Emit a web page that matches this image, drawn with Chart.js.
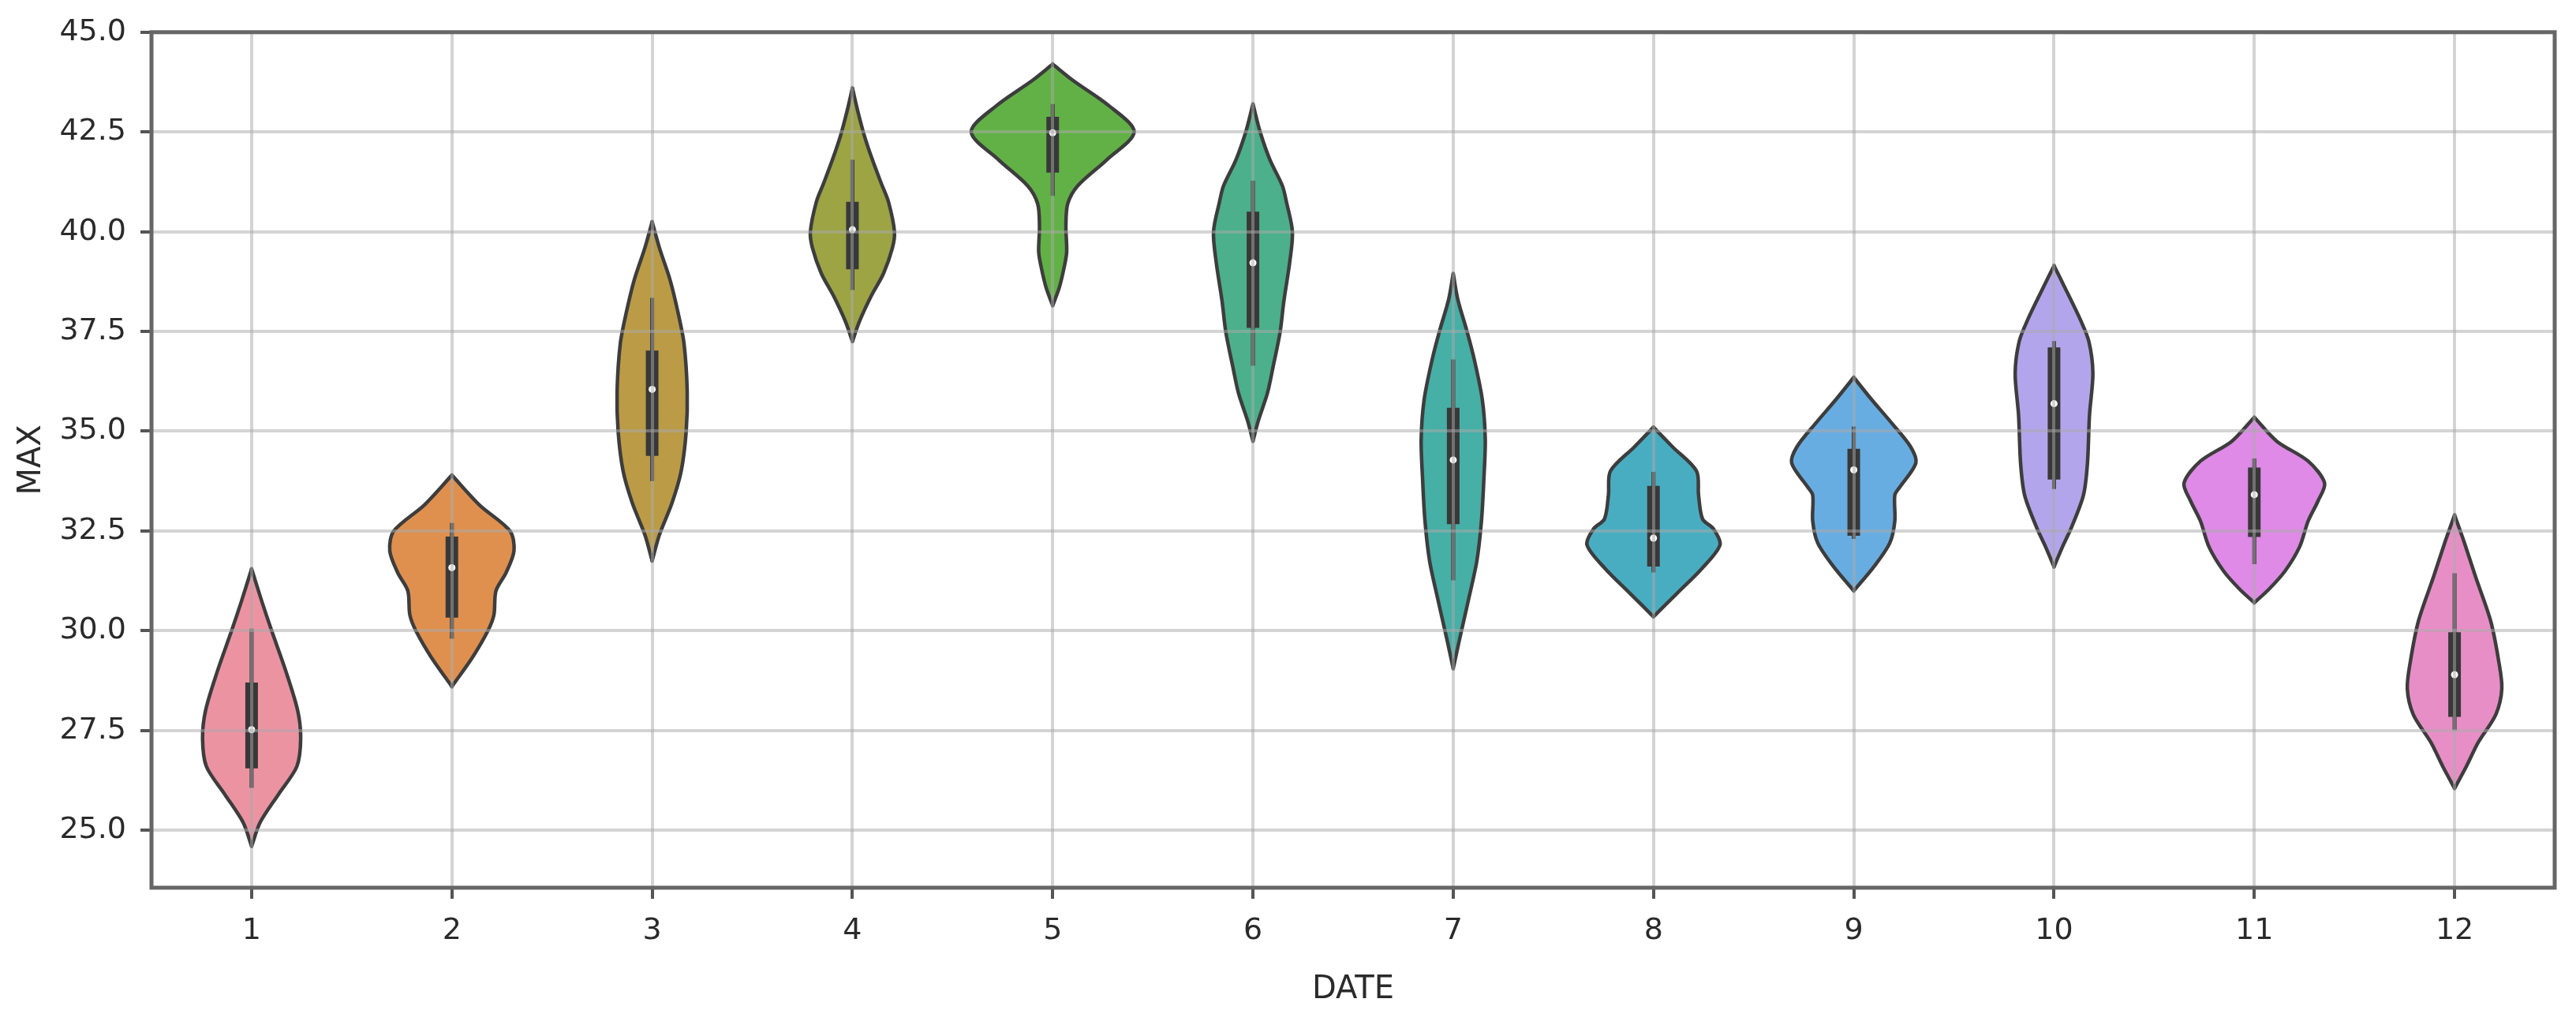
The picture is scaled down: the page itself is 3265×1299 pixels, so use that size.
<!DOCTYPE html>
<html>
<head>
<meta charset="utf-8">
<script src="https://cdn.jsdelivr.net/npm/chart.js@4.4.1/dist/chart.umd.min.js"></script>
<style>
  html, body { margin: 0; padding: 0; background: #ffffff; }
  #c { display: block; }
</style>
</head>
<body>
<canvas id="c" width="3265" height="1299"></canvas>
<script>
// ---------- data ----------
const months = ['1', '2', '3', '4', '5', '6', '7', '8', '9', '10', '11', '12'];
const yTicks = [25.0, 27.5, 30.0, 32.5, 35.0, 37.5, 40.0, 42.5, 45.0];

// violin outline: levels (MAX value) and density half-width (in category units) at each level
const violinLevels = [
  [24.6, 25.2, 25.9, 26.6, 27.3, 28.0, 29.0, 30.0, 30.75, 31.55],
  [28.6, 29.35, 30.0, 30.4, 31.0, 31.45, 32.0, 32.5, 33.15, 33.9],
  [31.75, 32.4, 33.2, 34.0, 35.0, 36.0, 37.2, 38.0, 38.8, 39.6, 40.25],
  [37.25, 37.75, 38.4, 38.95, 39.6, 40.0, 40.75, 41.2, 41.8, 42.4, 43.0, 43.6],
  [38.15, 38.6, 39.15, 39.5, 40.15, 40.7, 41.15, 41.8, 42.5, 43.15, 43.8, 44.2],
  [34.75, 35.25, 35.95, 36.6, 37.5, 38.25, 39.25, 40.0, 40.75, 41.15, 41.8, 42.5, 43.2],
  [29.05, 29.75, 30.75, 31.75, 32.75, 33.8, 34.8, 35.8, 36.8, 37.5, 38.3, 38.95],
  [30.35, 30.95, 31.55, 32.15, 32.55, 32.8, 33.4, 34.0, 34.6, 35.1],
  [31.0, 31.6, 32.2, 32.75, 33.4, 33.6, 34.2, 34.6, 35.2, 35.8, 36.35],
  [31.6, 32.1, 32.6, 33.4, 34.2, 35.4, 36.45, 37.25, 37.8, 38.55, 39.15],
  [30.7, 31.05, 31.5, 32.1, 32.75, 33.25, 33.7, 34.25, 34.75, 35.35],
  [26.05, 26.6, 27.2, 27.9, 28.55, 29.25, 30.25, 31.35, 32.25, 32.9]
];
const violinHalfWidths = [
  [0, 0.043, 0.134, 0.226, 0.245, 0.23, 0.17, 0.1, 0.05, 0],
  [0, 0.105, 0.18, 0.21, 0.22, 0.27, 0.31, 0.29, 0.138, 0],
  [0, 0.036, 0.099, 0.145, 0.17, 0.175, 0.159, 0.128, 0.089, 0.036, 0],
  [0, 0.035, 0.095, 0.155, 0.2, 0.21, 0.18, 0.145, 0.1, 0.06, 0.028, 0],
  [0, 0.033, 0.059, 0.07, 0.066, 0.075, 0.125, 0.27, 0.407, 0.283, 0.099, 0],
  [0, 0.026, 0.072, 0.1, 0.136, 0.154, 0.184, 0.197, 0.167, 0.147, 0.085, 0.036, 0],
  [0, 0.03, 0.075, 0.118, 0.141, 0.153, 0.16, 0.145, 0.105, 0.069, 0.023, 0],
  [0, 0.12, 0.24, 0.332, 0.3, 0.245, 0.225, 0.215, 0.097, 0],
  [0, 0.1, 0.18, 0.205, 0.205, 0.23, 0.31, 0.285, 0.19, 0.088, 0],
  [0, 0.042, 0.088, 0.147, 0.167, 0.177, 0.194, 0.174, 0.131, 0.059, 0],
  [0, 0.075, 0.154, 0.226, 0.269, 0.318, 0.351, 0.269, 0.112, 0],
  [0, 0.059, 0.118, 0.206, 0.236, 0.22, 0.18, 0.105, 0.046, 0]
];

// inner box statistics
const q1        = [26.55, 30.33, 34.38, 39.06, 41.48, 37.59, 32.67, 31.61, 32.38, 33.79, 32.35, 27.84];
const medians   = [27.52, 31.58, 36.05, 40.05, 42.48, 39.22, 34.28, 32.32, 34.03, 35.69, 33.41, 28.90];
const q3        = [28.70, 32.36, 37.02, 40.75, 42.88, 40.50, 35.59, 33.63, 34.56, 37.10, 34.09, 29.96];
const whiskerLo = [26.06, 29.80, 33.75, 38.54, 40.90, 36.64, 31.26, 31.46, 32.30, 33.55, 31.67, 27.50];
const whiskerHi = [30.05, 32.70, 38.34, 41.80, 43.20, 41.28, 36.80, 33.98, 35.12, 37.26, 34.32, 31.44];

// ---------- styles ----------
const violinColors = ['#ec93a2', '#e0904e', '#bb9b45', '#9ca444', '#62b146', '#4bb08b',
                      '#46afa6', '#49adc2', '#68ade2', '#b3a5ec', '#de8ae6', '#e88ec6'];
const OUTLINE = '#3d3d3d';
const BOXCOL = '#383838';
const TEXT = '#2a2a2a';

// ---------- datasets ----------
const datasets = [];
months.forEach((m, i) => {
  const cx = i + 1;
  const lv = violinLevels[i];
  const hw = violinHalfWidths[i];
  datasets.push({
    label: 'violin ' + m + ' left',
    data: lv.map((y, k) => ({ x: cx - hw[k], y: y })),
    borderColor: OUTLINE, borderWidth: 4.5, borderCapStyle: 'round', borderJoinStyle: 'round',
    pointRadius: 0, fill: false, tension: 0.3, order: 3
  });
  datasets.push({
    label: 'violin ' + m + ' right',
    data: lv.map((y, k) => ({ x: cx + hw[k], y: y })),
    borderColor: OUTLINE, borderWidth: 4.5, borderCapStyle: 'round', borderJoinStyle: 'round',
    backgroundColor: violinColors[i], fill: '-1',
    pointRadius: 0, tension: 0.3, order: 3
  });
});
months.forEach((m, i) => {
  datasets.push({
    label: 'whisker ' + m,
    data: [{ x: i + 1, y: whiskerLo[i] }, { x: i + 1, y: whiskerHi[i] }],
    borderColor: BOXCOL, borderWidth: 5, borderCapStyle: 'butt',
    pointRadius: 0, fill: false, order: 2
  });
  datasets.push({
    label: 'box ' + m,
    data: [{ x: i + 1, y: q1[i] }, { x: i + 1, y: q3[i] }],
    borderColor: BOXCOL, borderWidth: 16, borderCapStyle: 'butt',
    pointRadius: 0, fill: false, order: 1
  });
});
datasets.push({
  label: 'median',
  data: months.map((m, i) => ({ x: i + 1, y: medians[i] })),
  showLine: false, pointRadius: 4.5, pointBackgroundColor: '#ffffff',
  pointBorderWidth: 0, pointBorderColor: '#ffffff', order: 0
});

const framePlugin = {
  id: 'frame',
  afterDraw(chart) {
    const { ctx, chartArea: a } = chart;
    ctx.save();
    ctx.strokeStyle = '#666666';
    ctx.lineWidth = 5;
    ctx.strokeRect(a.left, a.top, a.right - a.left, a.bottom - a.top);
    ctx.restore();
  }
};

Chart.defaults.font.family = "'DejaVu Sans', sans-serif";
Chart.defaults.color = TEXT;

new Chart(document.getElementById('c'), {
  type: 'line',
  data: { datasets: datasets },
  plugins: [framePlugin],
  options: {
    indexAxis: 'y',
    responsive: false,
    animation: false,
    devicePixelRatio: 1,
    layout: { padding: { top: 35, right: 27, left: 0, bottom: 0 } },
    plugins: { legend: { display: false }, tooltip: { enabled: false } },
    scales: {
      x: {
        type: 'linear', position: 'bottom', min: 0.5, max: 12.5,
        afterFit: (s) => { s.height = 174; },
        afterBuildTicks: (s) => { s.ticks = months.map((m, i) => ({ value: i + 1 })); },
        ticks: {
          callback: (v) => months[Math.round(v) - 1],
          font: { size: 38 }, color: TEXT, padding: 18, maxRotation: 0, autoSkip: false
        },
        grid: {
          color: 'rgba(170,170,170,0.5)', lineWidth: 4, z: 1,
          drawTicks: true, tickLength: 14, tickColor: '#555555', tickWidth: 4
        },
        border: { display: false },
        title: { display: true, text: 'DATE', font: { size: 40 }, color: TEXT, padding: { top: 0, bottom: 20 } }
      },
      y: {
        type: 'linear', position: 'left', min: 23.56, max: 45.0,
        afterFit: (s) => { s.width = 192; },
        afterBuildTicks: (s) => { s.ticks = yTicks.map((v) => ({ value: v })); },
        ticks: {
          callback: (v) => Number(v).toFixed(1),
          font: { size: 38 }, color: TEXT, padding: 18
        },
        grid: {
          color: 'rgba(170,170,170,0.5)', lineWidth: 4, z: 1,
          drawTicks: true, tickLength: 14, tickColor: '#555555', tickWidth: 4
        },
        border: { display: false },
        title: { display: true, text: 'MAX', font: { size: 40 }, color: TEXT, padding: { top: 17, bottom: 0 } }
      }
    }
  }
});
</script>
</body>
</html>
